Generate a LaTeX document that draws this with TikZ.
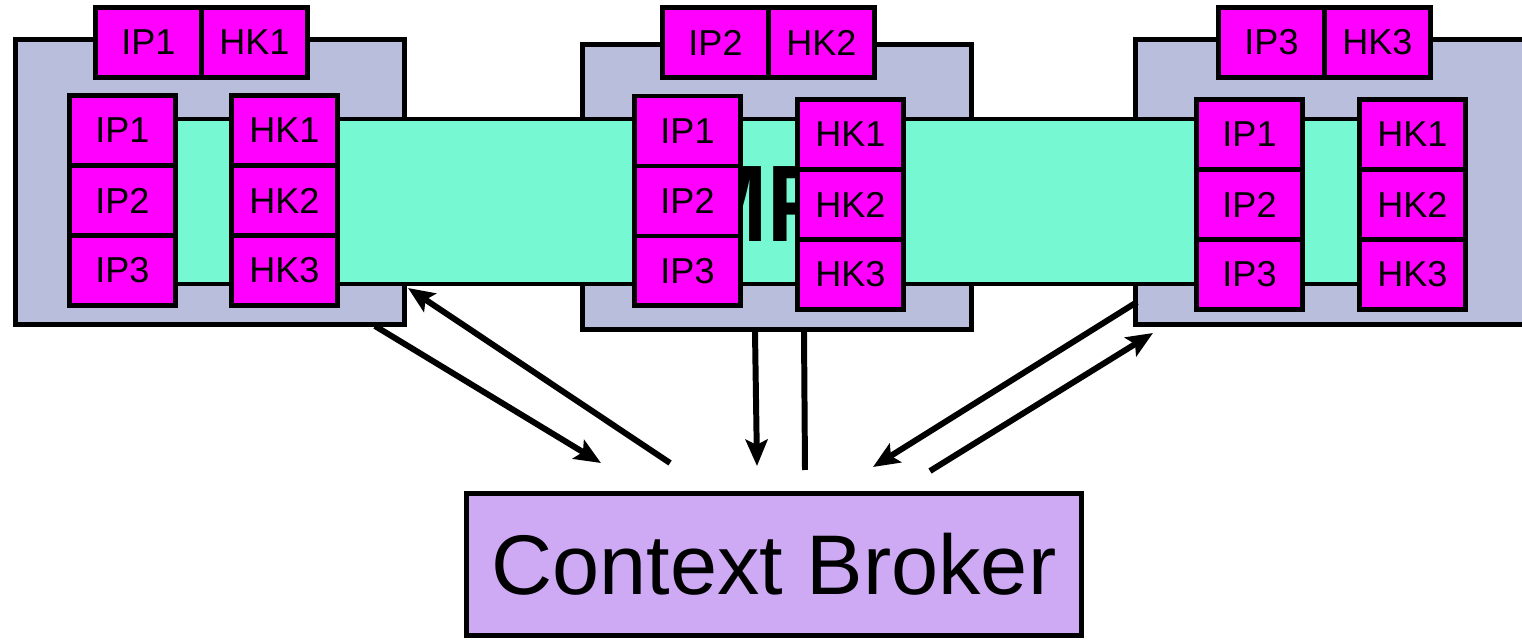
\documentclass[tikz,border=0pt]{standalone}
\usepackage{fontspec}
\setmainfont{Liberation Sans}
\usetikzlibrary{positioning,arrows.meta}

\definecolor{hostgrey}{RGB}{185,190,221}
\definecolor{bandgreen}{RGB}{118,249,210}
\definecolor{cellmag}{RGB}{255,0,255}
\definecolor{brokerlilac}{RGB}{206,170,245}

\begin{document}
\begin{tikzpicture}[x=0.02cm,y=-0.02cm,
  host/.style={draw,line width=2.8pt,fill=hostgrey,outer sep=0pt,inner sep=0pt,
    minimum width=7.78cm,minimum height=5.7cm,anchor=north west},
  cell/.style={draw,line width=2.8pt,fill=cellmag,outer sep=0pt,inner sep=0pt,
    minimum width=2.12cm,minimum height=1.4cm,font=\fontsize{20.5}{21}\selectfont},
  arr/.style={line width=3.4pt,-{Stealth[length=15pt,width=12.5pt,inset=3pt]}}]
  \useasboundingbox (0,0) rectangle (1522,641);

  % hosts
  \node[host] (hostA) at (15.5,39.5) {};
  \node[host] (hostB) at (582.5,44.5) {};
  \node[host] (hostC) at (1135.5,39.5) {};

  % shared band
  \node[draw,line width=2.8pt,fill=bandgreen,outer sep=0pt,anchor=north west,
    minimum width=26cm,minimum height=3.3cm] (band) at (120,119) {};
  \node[font=\fontsize{62}{64}\selectfont\bfseries,inner sep=0pt,anchor=base,
    xscale=0.85] (mp) at (760,242) {MP};

  % top pairs
  \node[cell,anchor=north west] (topipA) at (95.5,7.5) {IP1};
  \node[cell,right=0pt of topipA] (tophkA) {HK1};
  \node[cell,anchor=north west] (topipB) at (662.5,7.5) {IP2};
  \node[cell,right=0pt of topipB] (tophkB) {HK2};
  \node[cell,anchor=north west] (topipC) at (1218.5,7.5) {IP3};
  \node[cell,right=0pt of topipC] (tophkC) {HK3};

  % columns
  \node[cell,anchor=north west] (ipA1) at (69.5,95.5) {IP1};
  \node[cell,below=0pt of ipA1] (ipA2) {IP2};
  \node[cell,below=0pt of ipA2] (ipA3) {IP3};
  \node[cell,anchor=north west] (hkA1) at (231.5,95.5) {HK1};
  \node[cell,below=0pt of hkA1] (hkA2) {HK2};
  \node[cell,below=0pt of hkA2] (hkA3) {HK3};

  \node[cell,anchor=north west] (ipB1) at (634.5,96) {IP1};
  \node[cell,below=0pt of ipB1] (ipB2) {IP2};
  \node[cell,below=0pt of ipB2] (ipB3) {IP3};
  \node[cell,anchor=north west] (hkB1) at (797.5,99.5) {HK1};
  \node[cell,below=0pt of hkB1] (hkB2) {HK2};
  \node[cell,below=0pt of hkB2] (hkB3) {HK3};

  \node[cell,anchor=north west] (ipC1) at (1196.5,99.5) {IP1};
  \node[cell,below=0pt of ipC1] (ipC2) {IP2};
  \node[cell,below=0pt of ipC2] (ipC3) {IP3};
  \node[cell,anchor=north west] (hkC1) at (1359.5,99.5) {HK1};
  \node[cell,below=0pt of hkC1] (hkC2) {HK2};
  \node[cell,below=0pt of hkC2] (hkC3) {HK3};

  % broker
  \node[draw,line width=2.8pt,fill=brokerlilac,outer sep=0pt,
    minimum width=12.3cm,minimum height=2.84cm,
    font=\fontsize{48.2}{50}\selectfont] (broker) at (774,564.5) {Context Broker};

  % arrow ends
  \coordinate (aAout) at (375,326);
  \coordinate (aAin) at (601,463);
  \coordinate (bAout) at (670,463);
  \coordinate (bAin) at (408,288);
  \coordinate (aBout) at (755,332);
  \coordinate (aBin) at (757,466);
  \coordinate (bBout) at (804,332);
  \coordinate (bBin) at (805,470);
  \coordinate (aCout) at (1137,302);
  \coordinate (aCin) at (873,467);
  \coordinate (bCout) at (930,471);
  \coordinate (bCin) at (1153,333);

  \draw[arr] (aAout) -- (aAin);
  \draw[arr] (bAout) -- (bAin);
  \draw[arr] (aBout) -- (aBin);
  \draw[line width=3.4pt] (bBout) -- (bBin);
  \draw[arr] (aCout) -- (aCin);
  \draw[arr] (bCout) -- (bCin);
\end{tikzpicture}
\end{document}
